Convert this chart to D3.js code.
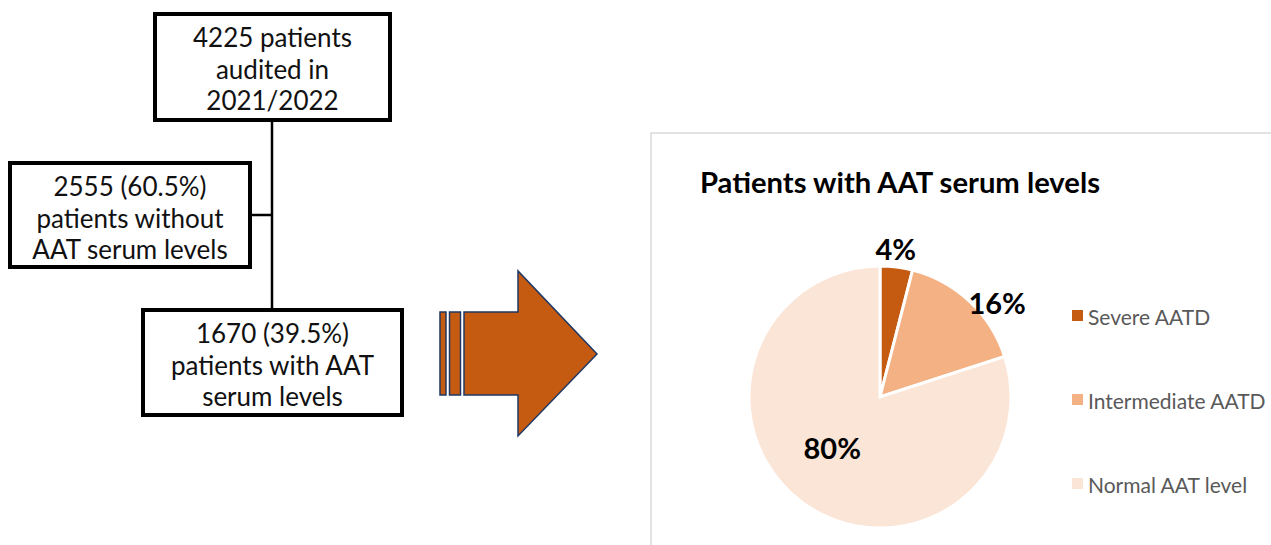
<!DOCTYPE html>
<html>
<head>
<meta charset="utf-8">
<script src="https://cdn.jsdelivr.net/npm/d3@7"></script>
<style>
	body { margin: 0; background: #fff; }
	svg { display: block; font-family: Lato, "Open Sans", sans-serif; }
</style>
</head>
<body>
<svg id="chart" width="1271" height="545"></svg>
<script>
const CATEGORIES = ['Severe AATD', 'Intermediate AATD', 'Normal AAT level'];
const SHARES = [4, 16, 80];
const COLORS = ['#C55A11', '#F4B183', '#FBE5D6'];
const CHART_TITLE = 'Patients with AAT serum levels';

// flow chart boxes
const BOX_TEXTS = [
	['4225 patients', 'audited in', '2021/2022'],
	['2555 (60.5%)', 'patients without', 'AAT serum levels'],
	['1670 (39.5%)', 'patients with AAT', 'serum levels']
];

const svg = d3.select('#chart');

/* Flow chart on the left */
const boxes = [
	{ x: 155, y: 14, w: 235, h: 106 },
	{ x: 10, y: 163, w: 240, h: 104 },
	{ x: 143, y: 310, w: 259, h: 105 }
];

// connectors
svg.append('line')
	.attr('x1', 272).attr('y1', 120).attr('x2', 272).attr('y2', 310)
	.attr('stroke', '#000').attr('stroke-width', 2.5);
svg.append('line')
	.attr('x1', 250).attr('y1', 215).attr('x2', 272).attr('y2', 215)
	.attr('stroke', '#000').attr('stroke-width', 2.5);

boxes.forEach((b, i) => {
	svg.append('rect')
		.attr('x', b.x).attr('y', b.y)
		.attr('width', b.w).attr('height', b.h)
		.attr('fill', '#fff')
		.attr('stroke', '#000').attr('stroke-width', 4);
	svg.append('text')
		.attr('text-anchor', 'middle')
		.attr('font-size', 26)
		.attr('fill', '#111')
		.selectAll('tspan')
		.data(BOX_TEXTS[i])
		.enter().append('tspan')
			.attr('x', b.x + b.w / 2)
			.attr('y', (d, j) => b.y + 33 + j * 31.5)
			.text(d => d);
});

/* Block arrow */
const arrowFill = '#C55A11';
const arrowStroke = '#1F3864';
svg.append('rect').attr('x', 440).attr('y', 312).attr('width', 6).attr('height', 83)
	.attr('fill', arrowFill).attr('stroke', arrowStroke).attr('stroke-width', 1.5);
svg.append('rect').attr('x', 449.5).attr('y', 312).attr('width', 11).attr('height', 83)
	.attr('fill', arrowFill).attr('stroke', arrowStroke).attr('stroke-width', 1.5);
svg.append('path')
	.attr('d', d3.line()([[464, 312], [518, 312], [518, 271], [597, 354], [518, 436], [518, 395], [464, 395]]) + 'Z')
	.attr('fill', arrowFill).attr('stroke', arrowStroke).attr('stroke-width', 1.5);

/* Pie chart panel */
svg.append('rect')
	.attr('x', 651).attr('y', 133)
	.attr('width', 640).attr('height', 440)
	.attr('fill', '#fff')
	.attr('stroke', '#D9D9D9').attr('stroke-width', 1.5);

svg.append('text')
	.attr('x', 700).attr('y', 193)
	.attr('font-size', 29).attr('font-weight', 'bold')
	.attr('textLength', 400).attr('lengthAdjust', 'spacingAndGlyphs')
	.attr('fill', '#000')
	.text(CHART_TITLE);

const data = CATEGORIES.map((c, i) => ({ name: c, value: SHARES[i], color: COLORS[i] }));
const cx = 880, cy = 397, r = 131;
const pie = d3.pie().sort(null).value(d => d.value);
const arc = d3.arc().innerRadius(0).outerRadius(r);
const arcs = pie(data);

const g = svg.append('g').attr('transform', `translate(${cx},${cy})`);
g.selectAll('path')
	.data(arcs)
	.enter().append('path')
		.attr('d', arc)
		.attr('fill', d => d.data.color)
		.attr('stroke', '#fff')
		.attr('stroke-width', 3);

// data labels: radius factor and nudge per slice
const LABEL_RADIUS = [1.14, 1.15, 0.53];
const LABEL_NUDGE = [[-3, 0], [14, 15], [-7, -6]];
g.selectAll('text.lbl')
	.data(arcs)
	.enter().append('text')
		.attr('class', 'lbl')
		.attr('transform', (d, i) => {
			const rr = r * LABEL_RADIUS[i];
			const p = d3.arc().innerRadius(rr).outerRadius(rr).centroid(d);
			return `translate(${p[0] + LABEL_NUDGE[i][0]},${p[1] + LABEL_NUDGE[i][1]})`;
		})
		.attr('text-anchor', 'middle')
		.attr('dominant-baseline', 'central')
		.attr('font-size', 29).attr('font-weight', 'bold')
		.attr('fill', '#000')
		.text(d => d.data.value + '%');

/* Legend */
const legendY = d3.scalePoint().domain(CATEGORIES).range([316, 484]);
const legend = svg.append('g');
legend.selectAll('rect')
	.data(data)
	.enter().append('rect')
		.attr('x', 1072).attr('y', d => legendY(d.name) - 6)
		.attr('width', 11).attr('height', 11)
		.attr('fill', d => d.color);
legend.selectAll('text')
	.data(data)
	.enter().append('text')
		.attr('x', 1088).attr('y', d => legendY(d.name))
		.attr('dominant-baseline', 'central')
		.attr('font-size', 21)
		.attr('fill', '#595959')
		.text(d => d.name);
</script>
</body>
</html>
